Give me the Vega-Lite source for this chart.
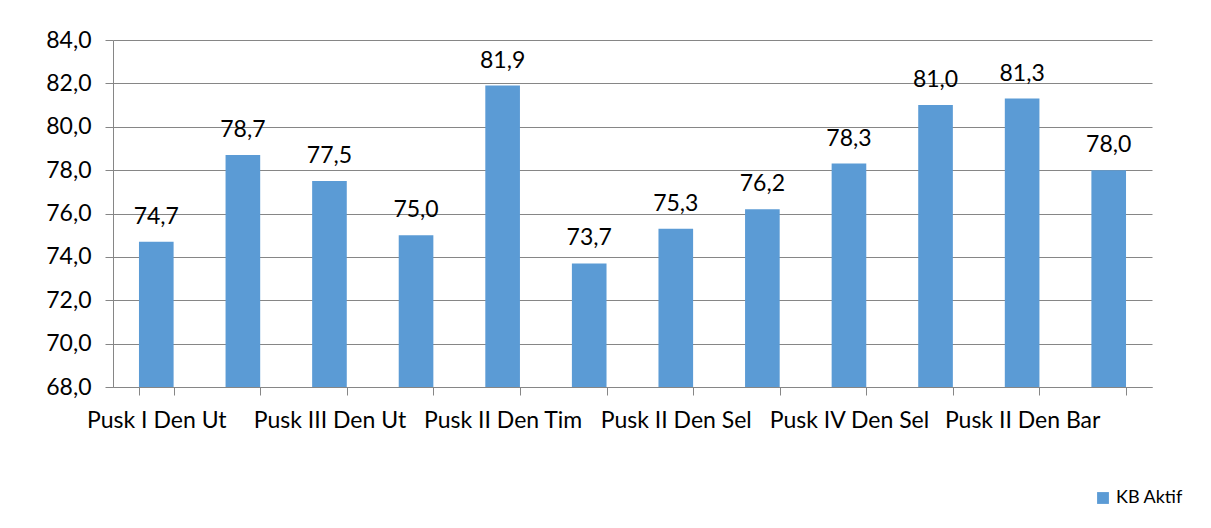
{
  "$schema": "https://vega.github.io/schema/vega-lite/v6.json",
  "autosize": "none",
  "width": 1039,
  "height": 347,
  "padding": {"left": 113, "top": 40, "right": 59, "bottom": 141},
  "background": "white",
  "config": {
    "locale": {"number": {"decimal": ",", "thousands": ".", "grouping": [3], "currency": ["", ""]}},
    "view": {"stroke": null},
    "font": "Lato"
  },
  "data": {
    "values": [
      {"puskesmas": "Pusk I Den Ut", "nilai": 74.7, "seri": "KB Aktif"},
      {"puskesmas": "Pusk II Den Ut", "nilai": 78.7, "seri": "KB Aktif"},
      {"puskesmas": "Pusk III Den Ut", "nilai": 77.5, "seri": "KB Aktif"},
      {"puskesmas": "Pusk I Den Tim", "nilai": 75.0, "seri": "KB Aktif"},
      {"puskesmas": "Pusk II Den Tim", "nilai": 81.9, "seri": "KB Aktif"},
      {"puskesmas": "Pusk I Den Sel", "nilai": 73.7, "seri": "KB Aktif"},
      {"puskesmas": "Pusk II Den Sel", "nilai": 75.3, "seri": "KB Aktif"},
      {"puskesmas": "Pusk III Den Sel", "nilai": 76.2, "seri": "KB Aktif"},
      {"puskesmas": "Pusk IV Den Sel", "nilai": 78.3, "seri": "KB Aktif"},
      {"puskesmas": "Pusk I Den Bar", "nilai": 81.0, "seri": "KB Aktif"},
      {"puskesmas": "Pusk II Den Bar", "nilai": 81.3, "seri": "KB Aktif"},
      {"puskesmas": "Kota Denpasar", "nilai": 78.0, "seri": "KB Aktif"}
    ]
  },
  "layer": [
    {
      "mark": {"type": "bar", "clip": true},
      "encoding": {
        "x": {
          "field": "puskesmas",
          "type": "nominal",
          "sort": null,
          "scale": {"paddingInner": 0.6, "paddingOuter": 0.3},
          "axis": {
            "title": null,
            "labelAngle": 0,
            "labelFontSize": 23,
            "labelColor": "#000000",
            "labelPadding": 14,
            "labelOverlap": false,
            "labelExpr": "indexof(['Pusk I Den Ut','Pusk III Den Ut','Pusk II Den Tim','Pusk II Den Sel','Pusk IV Den Sel','Pusk II Den Bar'], datum.value) >= 0 ? datum.value : ''",
            "ticks": true,
            "tickBand": "extent",
            "tickSize": 8,
            "tickWidth": 1,
            "tickColor": "#868686",
            "tickOpacity": 1,
            "domainColor": "#868686",
            "grid": false
          }
        },
        "y": {
          "field": "nilai",
          "type": "quantitative",
          "scale": {"domain": [68, 84], "nice": false, "zero": false},
          "axis": {
            "title": null,
            "values": [68, 70, 72, 74, 76, 78, 80, 82, 84],
            "format": ".1f",
            "labelFontSize": 23,
            "labelColor": "#000000",
            "labelPadding": 14,
            "tickSize": 8,
            "tickColor": "#868686",
            "domainColor": "#868686",
            "gridColor": "#868686",
            "gridWidth": 1
          }
        },
        "color": {
          "field": "seri",
          "type": "nominal",
          "scale": {"range": ["#5B9BD5"]},
          "legend": {
            "title": null,
            "orient": "none",
            "legendX": 981,
            "legendY": 449,
            "symbolType": "square",
            "symbolSize": 140,
            "symbolStrokeWidth": 0,
            "labelFontSize": 18,
            "labelColor": "#000000"
          }
        }
      }
    },
    {
      "mark": {"type": "text", "baseline": "alphabetic", "dy": -18, "fontSize": 23, "color": "#000000"},
      "encoding": {
        "x": {"field": "puskesmas", "type": "nominal", "sort": null},
        "y": {"field": "nilai", "type": "quantitative"},
        "text": {"field": "nilai", "type": "quantitative", "format": ".1f"}
      }
    }
  ]
}
